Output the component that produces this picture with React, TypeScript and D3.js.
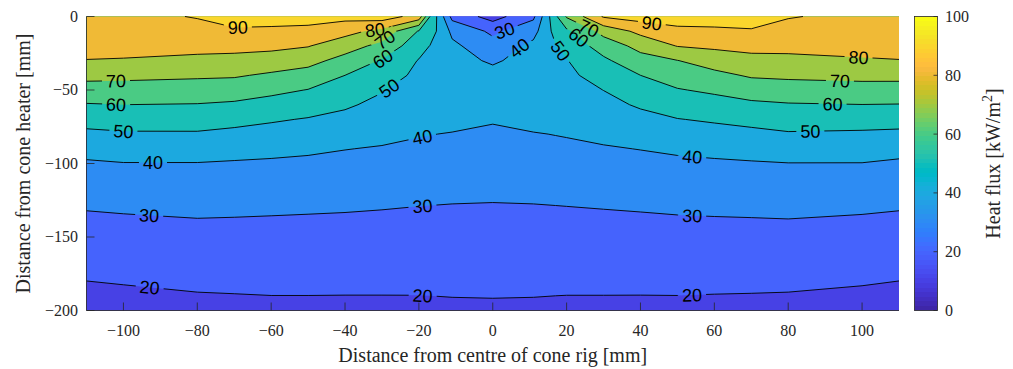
import * as d3 from "d3";
import React, { useEffect, useRef } from "react";

// horizontal position of each measuring point [mm]
const xPositions = [-110, -100, -80, -70, -60, -50, -40, -30, -20, -17, -11, 0, 11, 17, 20, 30, 40, 50, 60, 70, 80, 100, 110];
// depth of each measuring row [mm]
const depths = [0, -10, -20, -30, -40, -50, -60, -70, -80, -90, -100, -125, -150, -175, -200];

// heat flux [kW/m2], one row per depth, one value per x position
const fluxAt0 = [87, 87.5, 90.5, 94, 93, 94, 93, 95, 86, 60, 27, 16, 28, 58, 71, 91, 94, 94.5, 94, 94.5, 90.5, 88, 87];
const fluxAt10 = [85.5, 86.5, 87, 88.6, 88.6, 87.3, 83.3, 77, 59.3, 55, 37.8, 28, 36.5, 53.3, 58, 73.5, 82.6, 87.7, 88.4, 89.1, 87.1, 86.5, 85.5];
const fluxAt20 = [83.5, 84, 82.8, 82.9, 82.4, 80.5, 74.2, 67.3, 53.8, 49.8, 42, 33.7, 42.5, 49.5, 53.5, 64.2, 73.2, 80.4, 81.8, 83, 82.7, 84, 83.5];
const fluxAt30 = [79.7, 79.2, 77.9, 77.1, 75.6, 73.1, 66.7, 59.2, 49.5, 48.3, 44, 38.5, 44.5, 48.3, 49.6, 58.3, 66.2, 69.8, 74.4, 77, 77.6, 78.9, 79.7];
const fluxAt40 = [72.7, 72.3, 71.4, 71, 68.6, 66.2, 60, 54.9, 47.7, 47, 45, 43.5, 45.5, 47, 47.8, 54.2, 60, 64.6, 67.5, 71.1, 71.8, 72.6, 72.7];
const fluxAt50 = [66, 66, 65.4, 64.7, 62.3, 59.7, 55.7, 50.6, 45.9, 45.6, 45, 46, 45.5, 45.6, 46, 50.1, 55.6, 59.4, 61.6, 64.5, 65.5, 66.3, 66.1];
const fluxAt60 = [59.4, 60, 59.6, 58.6, 56.5, 54.4, 51.3, 47.6, 44.1, 44.2, 44, 45.5, 44.5, 44.2, 44.1, 47.4, 51.1, 54.5, 56.2, 58.2, 59.3, 59.9, 59.7];
const fluxAt70 = [53.5, 54.4, 54.2, 52.9, 51, 49.4, 47.5, 44.8, 42.3, 42.5, 42.5, 41.2, 42.5, 42.5, 42.3, 44.6, 47.3, 49.7, 51.1, 52.7, 54.4, 54, 53.8];
const fluxAt80 = [48, 48.9, 49, 47.7, 46.6, 45.4, 43.8, 42.1, 40.5, 40.2, 39.6, 37.5, 39.6, 40.2, 40.5, 41.9, 43.8, 45.5, 46.6, 47.7, 49.1, 48.6, 48];
const fluxAt90 = [43.1, 44.2, 44.3, 43.2, 42.3, 41.4, 40.2, 39.4, 38.4, 38.1, 37.6, 36, 37.6, 38.1, 38.4, 39.3, 40.2, 41.4, 42.3, 43.2, 44.4, 43.7, 42.8];
const fluxAt100 = [38.9, 39.7, 39.7, 39.2, 38.8, 38.3, 37.7, 37, 36.2, 36, 35.5, 34.5, 35.5, 36, 36.2, 37, 37.7, 38.3, 38.8, 39.3, 39.8, 39.8, 38.7];
const fluxAt125 = [31.6, 32.1, 32.8, 32.5, 32.2, 31.9, 31.6, 31.2, 30.7, 30.6, 30.4, 30.2, 30.4, 30.6, 30.7, 31.1, 31.5, 32, 32.3, 32.6, 32.9, 32.2, 31.6];
const fluxAt150 = [26, 26.4, 27.1, 27.1, 27, 26.9, 26.8, 26.6, 26.5, 26.4, 26.4, 27, 26.4, 26.4, 26.5, 26.6, 26.8, 27, 27.1, 27.1, 27.2, 26.5, 26];
const fluxAt175 = [21, 21.5, 22.4, 22.5, 22.6, 22.6, 22.5, 22.5, 22.4, 22.4, 22.5, 23, 22.5, 22.4, 22.4, 22.4, 22.5, 22.6, 22.5, 22.5, 22.4, 21.6, 21];
const fluxAt200 = [15.9, 16.5, 17.6, 17.9, 18.2, 18.2, 18.2, 18.2, 18.3, 18.4, 18.6, 18.5, 18.6, 18.4, 18.3, 18.3, 18.2, 18.2, 18, 17.8, 17.6, 16.7, 15.9];

const fluxRows = [fluxAt0, fluxAt10, fluxAt20, fluxAt30, fluxAt40, fluxAt50, fluxAt60, fluxAt70, fluxAt80, fluxAt90, fluxAt100, fluxAt125, fluxAt150, fluxAt175, fluxAt200];

const fillLevels = d3.range(0, 100, 10);
const lineLevels = d3.range(10, 100, 10);
const xTicks = d3.range(-100, 101, 20);
const yTicks = d3.range(-200, 1, 50);
const colorTicks = d3.range(0, 101, 20);

// where the inline contour labels sit (approximate, snapped onto the line)
const labelLevels = [90, 80, 70, 60, 50, 70, 60, 50, 40, 30, 20, 40, 30, 20, 30, 40, 50, 60, 70, 90, 80, 70, 60, 50, 40, 30, 20];
const labelXs = [-69, -32, -30, -30, -28, -102, -102, -100, -92, -93, -93, -19, -19, -19, 4, 8, 18, 23, 26, 43, 99, 94, 92, 86, 54, 54, 54];
const labelYs = [-8.5, -7, -13, -28, -49, -45, -61, -78, -99, -134, -187, -83, -130, -191, -15, -24, -24, -15, -8, -6, -30, -45, -61, -79, -96, -135, -191];

// parula, 64 colours
const parula = [
  [0.2422, 0.1504, 0.6603], [0.2504, 0.165, 0.7076], [0.2578, 0.1818, 0.7511], [0.2647, 0.1978, 0.7952],
  [0.2706, 0.2147, 0.8364], [0.2751, 0.2342, 0.871], [0.2783, 0.2559, 0.8991], [0.2803, 0.2782, 0.9221],
  [0.2813, 0.3006, 0.9414], [0.281, 0.3228, 0.9579], [0.2795, 0.3447, 0.9717], [0.276, 0.3667, 0.9829],
  [0.2699, 0.3892, 0.9906], [0.2602, 0.4123, 0.9952], [0.244, 0.4358, 0.9988], [0.2206, 0.4603, 0.9973],
  [0.1963, 0.4847, 0.9892], [0.1834, 0.5074, 0.9798], [0.1786, 0.5289, 0.9682], [0.1764, 0.5499, 0.952],
  [0.1687, 0.5703, 0.9359], [0.154, 0.5902, 0.9218], [0.146, 0.6091, 0.9079], [0.138, 0.6276, 0.8973],
  [0.1248, 0.6459, 0.8883], [0.1113, 0.6635, 0.8763], [0.0952, 0.6798, 0.8598], [0.0689, 0.6948, 0.8394],
  [0.0297, 0.7082, 0.8163], [0.0036, 0.7203, 0.7917], [0.0067, 0.7312, 0.766], [0.0433, 0.7411, 0.7394],
  [0.0964, 0.75, 0.712], [0.1408, 0.7584, 0.6842], [0.1717, 0.767, 0.6554], [0.1938, 0.7758, 0.6251],
  [0.2161, 0.7843, 0.5923], [0.247, 0.7918, 0.5567], [0.2906, 0.7973, 0.5188], [0.3406, 0.8008, 0.4789],
  [0.3909, 0.8029, 0.4354], [0.4456, 0.8024, 0.3909], [0.5044, 0.7993, 0.348], [0.5616, 0.7942, 0.3045],
  [0.6174, 0.7876, 0.2612], [0.672, 0.7793, 0.2227], [0.7242, 0.7698, 0.191], [0.7738, 0.7598, 0.1646],
  [0.8203, 0.7498, 0.1535], [0.8634, 0.7406, 0.1596], [0.9035, 0.733, 0.1774], [0.9393, 0.7288, 0.21],
  [0.9728, 0.7298, 0.2394], [0.9956, 0.7434, 0.2371], [0.997, 0.7659, 0.2199], [0.9952, 0.7893, 0.2028],
  [0.9892, 0.8136, 0.1885], [0.9786, 0.8386, 0.1766], [0.9676, 0.8639, 0.1643], [0.961, 0.889, 0.1537],
  [0.9597, 0.9135, 0.1423], [0.9628, 0.9373, 0.1265], [0.9691, 0.9606, 0.1064], [0.9769, 0.9839, 0.0805],
];

const rowColor = (i: number) => {
  const [r, g, b] = parula[i];
  return d3.rgb(r * 255, g * 255, b * 255).formatHex();
};
const colorFor = (level: number) =>
  rowColor(Math.max(0, Math.min(63, Math.floor((level / 100) * 64))));

const axisColor = "#262626";
const serif = "'Liberation Serif', 'Times New Roman', serif";
const sans = "'Liberation Sans', Arial, Helvetica, sans-serif";

type Pt = { px: number; py: number; u: number; v: number };

export default function App() {
  const svgRef = useRef<SVGSVGElement | null>(null);

  useEffect(() => {
    const svg = d3.select(svgRef.current);
    svg.selectAll("*").remove();

    const plot = { left: 86.5, right: 899, top: 16.5, bottom: 310.5 };
    const x = d3.scaleLinear().domain([-110, 110]).range([plot.left, plot.right]);
    const y = d3.scaleLinear().domain([-200, 0]).range([plot.bottom, plot.top]);

    const nx = xPositions.length;
    const ny = depths.length;
    const values = fluxRows.flat();
    const colToX = d3.scaleLinear().domain(d3.range(nx)).range(xPositions);
    const rowToY = d3.scaleLinear().domain(d3.range(ny)).range(depths);

    // grid coordinates from d3.contours -> pixels (non-uniform grid)
    const project = (pt: number[]): Pt => {
      const u = Math.max(0, Math.min(nx - 1, pt[0] - 0.5));
      const v = Math.max(0, Math.min(ny - 1, pt[1] - 0.5));
      return { px: x(colToX(u)), py: y(rowToY(v)), u, v };
    };

    const gen = d3.contours().size([nx, ny]);

    // filled bands
    const ringPath = (ring: number[][]) =>
      ring
        .map(project)
        .map((p, i) => `${i ? "L" : "M"}${p.px.toFixed(2)},${p.py.toFixed(2)}`)
        .join("") + "Z";

    const bands = gen.thresholds(fillLevels)(values);
    svg
      .append("g")
      .selectAll("path")
      .data(bands)
      .join("path")
      .attr("d", (c) => c.coordinates.map((poly) => poly.map(ringPath).join("")).join(""))
      .attr("fill", (c) => colorFor(c.value));

    // contour lines, without the parts that run along the frame
    const onFrame = (a: Pt, b: Pt) =>
      (a.u === 0 && b.u === 0) ||
      (a.u === nx - 1 && b.u === nx - 1) ||
      (a.v === 0 && b.v === 0) ||
      (a.v === ny - 1 && b.v === ny - 1);

    const linesFor = (level: number) => {
      const c = gen.contour(values, level);
      const runs: Pt[][] = [];
      c.coordinates.forEach((poly) =>
        poly.forEach((ring) => {
          let pts = ring.map(project);
          const f = pts[0], l = pts[pts.length - 1];
          if (f.px === l.px && f.py === l.py) pts = pts.slice(0, -1);
          const n = pts.length;
          let start = 0;
          for (let i = 0; i < n; i++) {
            if (onFrame(pts[i], pts[(i + 1) % n])) {
              start = (i + 1) % n;
              break;
            }
          }
          let run: Pt[] = [];
          for (let k = 0; k < n; k++) {
            const a = pts[(start + k) % n];
            const b = pts[(start + k + 1) % n];
            if (onFrame(a, b)) {
              if (run.length > 1) runs.push(run);
              run = [];
              continue;
            }
            if (!run.length) run.push(a);
            run.push(b);
          }
          if (run.length > 1) runs.push(run);
        })
      );
      return runs;
    };

    const lineRuns = new Map<number, Pt[][]>();
    lineLevels.forEach((lv) => lineRuns.set(lv, linesFor(lv)));

    // label positions snapped to the nearest line point
    const fontSize = 18;
    const labels = labelLevels.map((lv, i) => {
      const ax = x(labelXs[i]);
      const ay = y(labelYs[i]);
      let best = { d: Infinity, px: ax, py: ay, angle: 0 };
      (lineRuns.get(lv) || []).forEach((run) => {
        for (let k = 0; k < run.length - 1; k++) {
          const a = run[k], b = run[k + 1];
          const dx = b.px - a.px, dy = b.py - a.py;
          const len2 = dx * dx + dy * dy;
          if (len2 < 1e-6) continue;
          const t = Math.max(0, Math.min(1, ((ax - a.px) * dx + (ay - a.py) * dy) / len2));
          const qx = a.px + t * dx, qy = a.py + t * dy;
          const d = Math.hypot(qx - ax, qy - ay);
          if (d < best.d) {
            let angle = (Math.atan2(dy, dx) * 180) / Math.PI;
            if (angle > 90) angle -= 180;
            if (angle < -90) angle += 180;
            best = { d, px: qx, py: qy, angle };
          }
        }
      });
      const text = String(lv);
      return { text, x: best.px, y: best.py, angle: best.angle, w: text.length * 0.556 * fontSize };
    });

    const defs = svg.append("defs");
    const mask = defs.append("mask").attr("id", "labelGaps").attr("maskUnits", "userSpaceOnUse");
    mask.append("rect").attr("x", 0).attr("y", 0).attr("width", 1013).attr("height", 369).attr("fill", "white");
    mask
      .selectAll("rect.gap")
      .data(labels)
      .join("rect")
      .attr("class", "gap")
      .attr("x", (d) => -d.w / 2 - 4)
      .attr("y", -7)
      .attr("width", (d) => d.w + 8)
      .attr("height", 14)
      .attr("fill", "black")
      .attr("transform", (d) => `translate(${d.x},${d.y}) rotate(${d.angle})`);

    const allRuns: Pt[][] = [];
    lineLevels.forEach((lv) => (lineRuns.get(lv) || []).forEach((r) => allRuns.push(r)));
    svg
      .append("g")
      .attr("mask", "url(#labelGaps)")
      .selectAll("path")
      .data(allRuns)
      .join("path")
      .attr("d", (run) => run.map((p, i) => `${i ? "L" : "M"}${p.px.toFixed(2)},${p.py.toFixed(2)}`).join(""))
      .attr("fill", "none")
      .attr("stroke", "#000")
      .attr("stroke-width", 0.9)
      .attr("stroke-linejoin", "round");

    svg
      .append("g")
      .selectAll("text")
      .data(labels)
      .join("text")
      .attr("transform", (d) => `translate(${d.x},${d.y}) rotate(${d.angle})`)
      .attr("text-anchor", "middle")
      .attr("dy", "0.36em")
      .attr("font-family", sans)
      .attr("font-size", fontSize)
      .attr("fill", "#000")
      .text((d) => d.text);

    // axes (left and bottom only, ticks inward)
    const axes = svg.append("g").attr("stroke", axisColor).attr("stroke-width", 0.8);
    axes.append("line").attr("x1", plot.left).attr("x2", plot.left).attr("y1", plot.top).attr("y2", plot.bottom);
    axes.append("line").attr("x1", plot.left).attr("x2", plot.right).attr("y1", plot.bottom).attr("y2", plot.bottom);
    axes
      .selectAll("line.xt")
      .data(xTicks)
      .join("line")
      .attr("class", "xt")
      .attr("x1", (d) => x(d))
      .attr("x2", (d) => x(d))
      .attr("y1", plot.bottom)
      .attr("y2", plot.bottom - 8);
    axes
      .selectAll("line.yt")
      .data(yTicks)
      .join("line")
      .attr("class", "yt")
      .attr("x1", plot.left)
      .attr("x2", plot.left + 8)
      .attr("y1", (d) => y(d))
      .attr("y2", (d) => y(d));

    const fmt = d3.format("d");
    svg
      .append("g")
      .selectAll("text")
      .data(xTicks)
      .join("text")
      .attr("x", (d) => x(d))
      .attr("y", 336)
      .attr("text-anchor", "middle")
      .attr("font-family", serif)
      .attr("font-size", 16)
      .attr("fill", axisColor)
      .text((d) => fmt(d));

    svg
      .append("g")
      .selectAll("text")
      .data(yTicks)
      .join("text")
      .attr("x", 78)
      .attr("y", (d) => y(d))
      .attr("dy", "0.34em")
      .attr("text-anchor", "end")
      .attr("font-family", serif)
      .attr("font-size", 16)
      .attr("fill", axisColor)
      .text((d) => fmt(d));

    svg
      .append("text")
      .attr("x", (plot.left + plot.right) / 2)
      .attr("y", 361.5)
      .attr("text-anchor", "middle")
      .attr("font-family", serif)
      .attr("font-size", 20)
      .attr("fill", axisColor)
      .text("Distance from centre of cone rig [mm]");

    svg
      .append("text")
      .attr("transform", `translate(29.5,${(plot.top + plot.bottom) / 2}) rotate(-90)`)
      .attr("text-anchor", "middle")
      .attr("font-family", serif)
      .attr("font-size", 20)
      .attr("fill", axisColor)
      .text("Distance from cone heater [mm]");

    // colorbar
    const cb = { left: 914.5, right: 937.5 };
    const c = d3.scaleLinear().domain([0, 100]).range([plot.bottom, plot.top]);
    const grad = defs
      .append("linearGradient")
      .attr("id", "parulaBar")
      .attr("x1", 0)
      .attr("x2", 0)
      .attr("y1", 1)
      .attr("y2", 0);
    parula.forEach((_, i) => {
      grad.append("stop").attr("offset", i / 64).attr("stop-color", rowColor(i));
      grad.append("stop").attr("offset", (i + 1) / 64).attr("stop-color", rowColor(i));
    });
    svg
      .append("rect")
      .attr("x", cb.left)
      .attr("y", plot.top)
      .attr("width", cb.right - cb.left)
      .attr("height", plot.bottom - plot.top)
      .attr("fill", "url(#parulaBar)")
      .attr("stroke", axisColor)
      .attr("stroke-width", 0.8);
    svg
      .append("g")
      .selectAll("line")
      .data(colorTicks)
      .join("line")
      .attr("x1", cb.right - 4)
      .attr("x2", cb.right)
      .attr("y1", (d) => c(d))
      .attr("y2", (d) => c(d))
      .attr("stroke", axisColor)
      .attr("stroke-width", 0.8);
    svg
      .append("g")
      .selectAll("text")
      .data(colorTicks)
      .join("text")
      .attr("x", 945)
      .attr("y", (d) => c(d))
      .attr("dy", "0.34em")
      .attr("font-family", serif)
      .attr("font-size", 16)
      .attr("fill", axisColor)
      .text((d) => fmt(d));

    const cbTitle = svg
      .append("text")
      .attr("transform", `translate(999.5,${(plot.top + plot.bottom) / 2}) rotate(-90)`)
      .attr("text-anchor", "middle")
      .attr("font-family", serif)
      .attr("font-size", 20)
      .attr("fill", axisColor);
    cbTitle.append("tspan").text("Heat flux [kW/m");
    cbTitle.append("tspan").attr("dy", -8).attr("font-size", 14).text("2");
    cbTitle.append("tspan").attr("dy", 8).text("]");
  }, []);

  return (
    <svg
      ref={svgRef}
      width={1013}
      height={369}
      style={{ position: "absolute", left: 0, top: 0, background: "#fff" }}
    />
  );
}
